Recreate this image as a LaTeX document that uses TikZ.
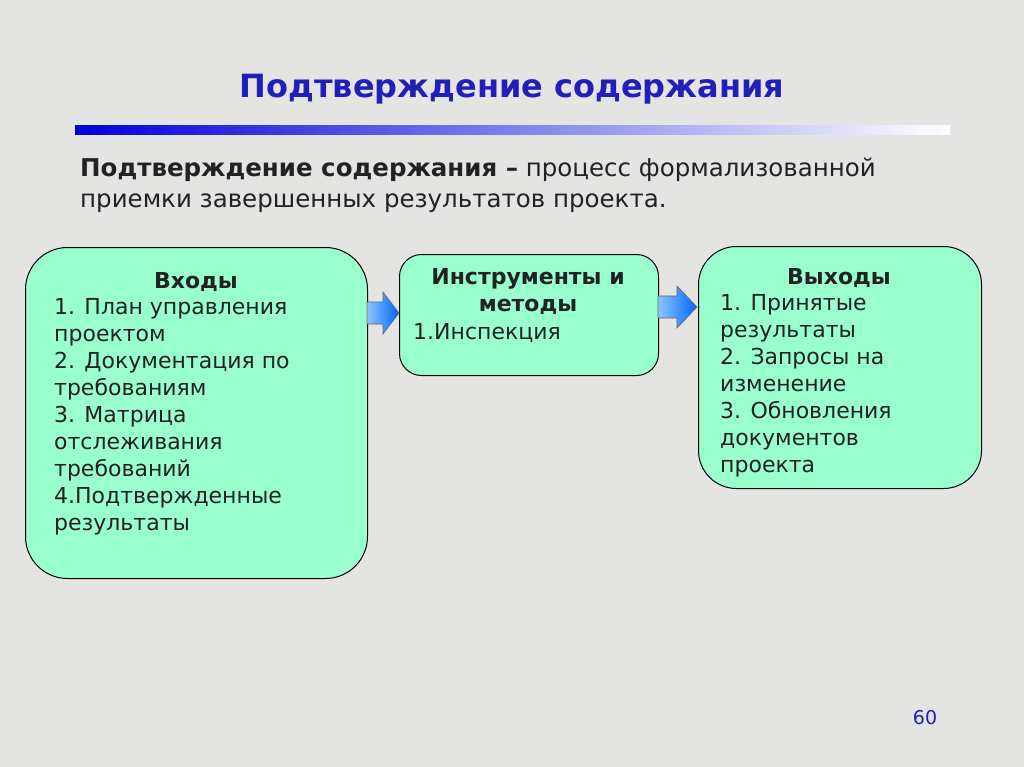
\documentclass[tikz,border=0pt]{standalone}
\usepackage{fontspec}
\setmainfont{DejaVu Sans}
\definecolor{bg}{HTML}{E4E4E2}
\definecolor{boxfill}{HTML}{99FFCC}
\definecolor{ttl}{HTML}{2020B8}
\definecolor{txt}{HTML}{222222}
\tikzset{
 stage/.style={draw=black, line width=1pt, fill=boxfill, rounded corners=#1, anchor=north west},
 body/.style={anchor=north west, align=left, font=\fontsize{22}{27}\selectfont, text=txt, inner sep=0pt},
 head/.style={anchor=north, font=\bfseries\fontsize{22}{27}\selectfont, text=txt, inner sep=0pt, align=center},
 blkarrow/.style={draw=black!60, line width=0.6pt, left color=cyan!50!blue!45, right color=blue!60!cyan}
}
\begin{document}
\begin{tikzpicture}[x=1pt,y=-1pt]
\fill[bg] (0,0) rectangle (1024,767);
\useasboundingbox (0,0) rectangle (1024,767);
\node (title) at (512,89) {\color{ttl}\bfseries\fontsize{32}{36}\selectfont Подтверждение содержания};
\shade[left color=blue!85!black, right color=white] (75,126) rectangle (950,135);
\node[anchor=north west, inner sep=0pt, align=left, font=\fontsize{24.5}{31}\selectfont, text=txt] (def) at (80,158)
 {\textbf{Подтверждение содержания –} процесс формализованной\\приемки завершенных результатов проекта.};
\node[stage=42pt, minimum width=342pt, minimum height=331pt] (in) at (25,247) {};
\node[stage=22pt, minimum width=259pt, minimum height=121pt] (tool) at (399,254) {};
\node[stage=38pt, minimum width=283pt, minimum height=242pt] (out) at (698,246) {};
\node[head] (inh) at (196,272) {Входы};
\node[body] (inb) at (54,298) {1. План управления\\проектом\\2. Документация по\\требованиям\\3. Матрица\\отслеживания\\требований\\4.Подтвержденные\\результаты};
\node[head] (toolh) at (528,268) {Инструменты и\\методы};
\node[body] (toolb) at (413,323) {1.Инспекция};
\node[head] (outh) at (839,268) {Выходы};
\node[body] (outb) at (720,294) {1. Принятые\\результаты\\2. Запросы на\\изменение\\3. Обновления\\документов\\проекта};
\path[blkarrow]
 (367,302) -- (383,302) -- (383,292) -- (399,313) -- (383,334) -- (383,324) -- (367,324) -- cycle;
\path[blkarrow]
 (658,296) -- (677,296) -- (677,286) -- (697,307) -- (677,328) -- (677,318) -- (658,318) -- cycle;
\node (pg) at (925,718) {\color{ttl}\fontsize{19}{22}\selectfont 60};
\end{tikzpicture}
\end{document}
